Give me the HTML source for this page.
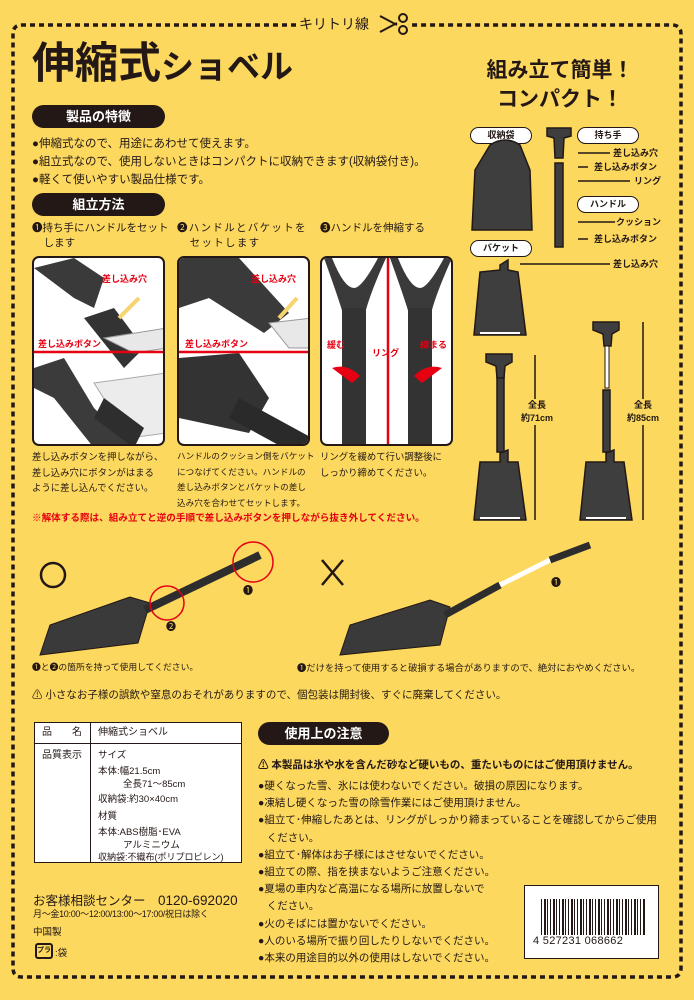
<!DOCTYPE html>
<html><head><meta charset="utf-8">
<style>
*{margin:0;padding:0;box-sizing:border-box}
body{width:694px;height:1000px;background:#fcd85e;position:relative;overflow:hidden;font-family:"Liberation Sans","Noto Sans CJK JP",sans-serif;color:#231815}
.a{position:absolute;white-space:nowrap}
.pill{position:absolute;background:#231815;color:#fff;border-radius:12px;font-weight:bold;font-size:13px;text-align:center;line-height:23px;height:23px}
.wp{position:absolute;background:#fff;border:1.5px solid #231815;border-radius:9px;font-weight:bold;font-size:9px;text-align:center;line-height:14px;height:17px;width:62px}
.t12{font-size:11.5px;line-height:18px}
.cap{font-size:9.4px;line-height:15.5px}
.photo{position:absolute;border:2px solid #231815;border-radius:7px;background:#fff;overflow:hidden;top:256px;height:190px}
.lbl{font-size:9px;font-weight:bold}
.red{color:#e60012}
.tb{position:absolute;white-space:nowrap;font-size:9.5px;line-height:12px}
</style></head><body>
<svg class="a" style="left:0;top:0" width="694" height="1000">
 <path d="M296 25 H22 Q13 25 13 34 V968 Q13 977 22 977 H672 Q681 977 681 968 V34 Q681 25 672 25 H408" fill="none" stroke="#231815" stroke-width="3.5" stroke-dasharray="5 4"/>
 <g stroke="#231815" stroke-width="2" fill="none"><path d="M380 16 L397 25 M380 32 L397 23"/><circle cx="403" cy="18" r="4"/><circle cx="403" cy="30" r="4"/></g>
</svg>
<div class="a" style="left:299px;top:14px;font-size:14px">キリトリ線</div>

<div class="a" style="left:32px;top:36px;font-size:43px;font-weight:bold;line-height:56px">伸縮式<span style="font-size:33px">ショベル</span></div>
<div class="pill" style="left:32px;top:105px;width:133px">製品の特徴</div>
<div class="a t12" style="left:32px;top:135px">●伸縮式なので、用途にあわせて使えます。<br>●組立式なので、使用しないときはコンパクトに収納できます(収納袋付き)。<br>●軽くて使いやすい製品仕様です。</div>
<div class="pill" style="left:32px;top:193px;width:133px">組立方法</div>
<div class="a" style="left:32px;top:221px;font-size:10.5px;line-height:15px">❶持ち手にハンドルをセット<br>&nbsp;&nbsp;&nbsp;&nbsp;します</div>
<div class="a" style="left:177px;top:221px;font-size:10.5px;line-height:15px;letter-spacing:1.3px">❷ハンドルとバケットを<br>&nbsp;&nbsp;&nbsp;セットします</div>
<div class="a" style="left:320px;top:221px;font-size:10.5px;line-height:15px">❸ハンドルを伸縮する</div>

<div class="photo" style="left:32px;width:133px">
<svg width="133" height="190"><path d="M0 10 L40 0 L70 20 L60 50 L40 40 Z" fill="#3a3a3a"/><path d="M50 60 L80 50 L110 90 L90 110 Z" fill="#333"/><path d="M70 80 L133 70 L133 90 L100 95Z" fill="#e8e8e8" stroke="#999"/><path d="M0 110 L30 100 L60 150 L100 190 L60 190 L20 140 L0 130Z" fill="#3b3b3b"/><path d="M60 125 L133 115 L133 175 L95 180 Z" fill="#ececec" stroke="#aaa"/><path d="M70 140 L110 170 L100 190 L60 160Z" fill="#2e2e2e"/><line x1="0" y1="94" x2="133" y2="94" stroke="#e60012" stroke-width="2.5"/><path d="M85 60 L105 40" stroke="#f6d470" stroke-width="4"/></svg>
<div class="a lbl red" style="left:68px;top:14px">差し込み穴</div><div class="a lbl red" style="left:4px;top:79px">差し込みボタン</div></div>
<div class="photo" style="left:177px;width:133px">
<svg width="133" height="190"><path d="M0 0 L60 0 L110 55 L85 75 L30 40 L0 50Z" fill="#3a3a3a"/><path d="M0 100 L60 95 L90 140 L70 175 L0 160Z" fill="#333"/><path d="M60 140 L133 180 L133 190 L105 190 L50 160Z" fill="#2a2a2a"/><path d="M90 65 L133 60 L133 90 L110 90Z" fill="#e8e8e8" stroke="#999"/><line x1="0" y1="94" x2="133" y2="94" stroke="#e60012" stroke-width="2.5"/><path d="M100 60 L118 40" stroke="#f6d470" stroke-width="4"/></svg>
<div class="a lbl red" style="left:72px;top:14px">差し込み穴</div><div class="a lbl red" style="left:6px;top:79px">差し込みボタン</div></div>
<div class="photo" style="left:320px;width:133px">
<svg width="133" height="190"><path d="M2 0 Q20 50 22 60 L42 60 Q46 40 64 0 L56 0 Q40 30 32 30 Q22 30 10 0Z" fill="#3a3a3a"/><rect x="20" y="50" width="24" height="140" fill="#333"/><path d="M68 0 Q86 50 88 60 L108 60 Q112 40 130 0 L122 0 Q106 30 98 30 Q88 30 76 0Z" fill="#3a3a3a"/><rect x="86" y="50" width="24" height="140" fill="#333"/><line x1="66" y1="0" x2="66" y2="190" stroke="#e60012" stroke-width="2.5"/><path d="M10 110 Q25 105 38 118 L30 125Z" fill="#e60012"/><path d="M120 110 Q105 105 92 118 L100 125Z" fill="#e60012"/></svg>
<div class="a lbl red" style="left:5px;top:80px">緩む</div><div class="a lbl red" style="left:50px;top:88px">リング</div><div class="a lbl red" style="left:98px;top:80px">締まる</div></div>

<div class="a cap" style="left:32px;top:449px">差し込みボタンを押しながら、<br>差し込み穴にボタンがはまる<br>ように差し込んでください。</div>
<div class="a cap" style="left:177px;top:449px;font-size:8.6px">ハンドルのクッション側をバケット<br>につなげてください。ハンドルの<br>差し込みボタンとバケットの差し<br>込み穴を合わせてセットします。</div>
<div class="a cap" style="left:320px;top:449px">リングを緩めて行い調整後に<br>しっかり締めてください。</div>
<div class="a red" style="left:32px;top:510px;font-size:9.6px;font-weight:bold">※解体する際は、組み立てと逆の手順で差し込みボタンを押しながら抜き外してください。</div>

<!-- right column -->
<div class="a" style="left:470px;top:56px;width:180px;text-align:center;font-size:21px;font-weight:bold;line-height:29px">組み立て簡単！<br>コンパクト！</div>
<div class="wp" style="left:470px;top:127px">収納袋</div>
<div class="wp" style="left:577px;top:127px">持ち手</div>
<div class="wp" style="left:577px;top:196px">ハンドル</div>
<div class="wp" style="left:470px;top:240px">バケット</div>
<svg class="a" style="left:460px;top:110px" width="234" height="420">
 <g fill="#3e3e3e" stroke="#231815" stroke-width="1.5">
  <path d="M30 35 Q45 25 60 35 L70 60 L72 120 L12 120 L15 60Z"/>
  <path d="M87 18 L111 18 L111 26 L104 28 L103 48 L95 48 L94 28 L87 26Z"/>
  <rect x="95" y="53" width="8" height="84"/>
  <path d="M40 155 L48 150 L48 160 L58 162 L66 225 L14 225 L20 162 L40 160Z"/>
  <path d="M40 343 L48 340 L48 352 L58 352 L66 410 L14 410 L20 352 L40 352Z"/>
  <rect x="37" y="262" width="7" height="80"/>
  <path d="M26 244 L52 244 L52 252 L45 256 L44 268 L37 268 L36 256 L26 252Z"/>
  <path d="M146 343 L154 340 L154 352 L164 352 L172 410 L120 410 L126 352 L146 352Z"/>
  <rect x="143" y="280" width="7" height="62"/>
  <path d="M133 212 L159 212 L159 220 L152 224 L151 236 L144 236 L143 224 L133 220Z"/>
 </g>
 <rect x="145" y="236" width="4" height="42" fill="#fff" stroke="#231815"/>
 <rect x="20" y="222" width="40" height="2" fill="#fff"/><rect x="20" y="407" width="40" height="2" fill="#fff"/><rect x="126" y="407" width="40" height="2" fill="#fff"/>
 <g stroke="#231815" stroke-width="1.5">
  <line x1="118" y1="43" x2="150" y2="43"/><line x1="118" y1="57" x2="128" y2="57"/><line x1="118" y1="71" x2="170" y2="71"/>
  <line x1="118" y1="112" x2="155" y2="112"/><line x1="118" y1="129" x2="128" y2="129"/><line x1="60" y1="154" x2="150" y2="154"/>
  <line x1="75" y1="245" x2="75" y2="410"/><line x1="183" y1="212" x2="183" y2="410"/>
 </g>
</svg>
<div class="a lbl" style="left:613px;top:146px">差し込み穴</div>
<div class="a lbl" style="left:594px;top:160px">差し込みボタン</div>
<div class="a lbl" style="left:634px;top:174px">リング</div>
<div class="a lbl" style="left:616px;top:215px">クッション</div>
<div class="a lbl" style="left:594px;top:232px">差し込みボタン</div>
<div class="a lbl" style="left:613px;top:257px">差し込み穴</div>
<div class="a lbl" style="left:521px;top:399px;background:#fcd85e;text-align:center;line-height:13px">全長<br>約71cm</div>
<div class="a lbl" style="left:627px;top:399px;background:#fcd85e;text-align:center;line-height:13px">全長<br>約85cm</div>

<!-- usage -->
<svg class="a" style="left:20px;top:525px" width="660" height="140">
 <circle cx="33" cy="50" r="12" fill="none" stroke="#231815" stroke-width="2.5"/>
 <path d="M302 35 L323 60 M323 35 L302 60" stroke="#231815" stroke-width="2.5"/>
 <path d="M20 130 L30 100 L110 72 L130 78 L118 118 Z" fill="#3a3a3a" stroke="#231815"/>
 <path d="M125 85 L240 30" stroke="#2d2d2d" stroke-width="8"/>
 <circle cx="147" cy="78" r="17" fill="none" stroke="#e60012" stroke-width="1.5"/>
 <circle cx="233" cy="37" r="20" fill="none" stroke="#e60012" stroke-width="1.5"/>
 <path d="M320 130 L330 100 L410 75 L430 82 L420 120Z" fill="#3a3a3a" stroke="#231815"/>
 <path d="M425 90 L480 60" stroke="#2d2d2d" stroke-width="7"/>
 <path d="M480 60 L530 35" stroke="#fff" stroke-width="5"/>
 <path d="M530 35 L570 20" stroke="#2d2d2d" stroke-width="7"/>
</svg>
<div class="a" style="left:243px;top:582px;font-size:10px">❶</div>
<div class="a" style="left:166px;top:618px;font-size:10px">❷</div>
<div class="a" style="left:551px;top:574px;font-size:10px">❶</div>
<div class="a" style="left:32px;top:660px;font-size:8.8px">❶と❷の箇所を持って使用してください。</div>
<div class="a" style="left:297px;top:660px;font-size:9.3px">❶だけを持って使用すると破損する場合がありますので、絶対におやめください。</div>
<div class="a" style="left:32px;top:687px;font-size:10.5px">⚠ 小さなお子様の誤飲や窒息のおそれがありますので、個包装は開封後、すぐに廃棄してください。</div>

<!-- table -->
<div class="a" style="left:34px;top:722px;width:208px;height:141px;border:1.5px solid #231815;background:#fff"></div>
<div class="a" style="left:34px;top:743px;width:208px;border-top:1.5px solid #231815"></div>
<div class="a" style="left:90px;top:722px;height:141px;border-left:1.5px solid #231815"></div>
<div class="tb" style="left:42px;top:727px;font-size:10px">品　　名</div>
<div class="tb" style="left:98px;top:727px;font-size:10px">伸縮式ショベル</div>
<div class="tb" style="left:42px;top:750px;font-size:10px">品質表示</div>
<div class="tb" style="left:98px;top:750px">サイズ</div>
<div class="tb" style="left:98px;top:766px">本体:幅21.5cm</div>
<div class="tb" style="left:123px;top:779px">全長71～85cm</div>
<div class="tb" style="left:98px;top:794px">収納袋:約30×40cm</div>
<div class="tb" style="left:98px;top:811px">材質</div>
<div class="tb" style="left:98px;top:827px">本体:ABS樹脂･EVA</div>
<div class="tb" style="left:123px;top:840px">アルミニウム</div>
<div class="tb" style="left:98px;top:851px;font-size:9px">収納袋:不織布(ポリプロピレン)</div>
<div class="a" style="left:33px;top:890px;font-size:12.5px">お客様相談センター　<span style="font-size:13.5px">0120-692020</span></div>
<div class="a" style="left:33px;top:907px;font-size:9px;letter-spacing:-0.3px">月～金10:00～12:00/13:00～17:00/祝日は除く</div>
<div class="a" style="left:33px;top:924px;font-size:9.5px">中国製</div>
<div class="a" style="left:35px;top:943px;width:18px;height:16px;border:2px solid #231815;border-radius:3px;font-size:7px;text-align:center;line-height:12px;font-weight:bold">プラ</div>
<div class="a" style="left:55px;top:945px;font-size:9.5px">:袋</div>

<div class="pill" style="left:258px;top:722px;width:131px">使用上の注意</div>
<div class="a" style="left:258px;top:757px;font-size:10.5px;font-weight:bold">⚠ 本製品は氷や水を含んだ砂など硬いもの、重たいものにはご使用頂けません。</div>
<div class="a" style="left:258px;top:778px;font-size:10.5px;line-height:17.2px">●硬くなった雪、氷には使わないでください。破損の原因になります。<br>●凍結し硬くなった雪の除雪作業にはご使用頂けません。<br>●組立て･伸縮したあとは、リングがしっかり締まっていることを確認してからご使用<br>&nbsp;&nbsp;&nbsp;ください。<br>●組立て･解体はお子様にはさせないでください。<br>●組立ての際、指を挟まないようご注意ください。<br>●夏場の車内など高温になる場所に放置しないで<br>&nbsp;&nbsp;&nbsp;ください。<br>●火のそばには置かないでください。<br>●人のいる場所で振り回したりしないでください。<br>●本来の用途目的以外の使用はしないでください。</div>

<div class="a" style="left:524px;top:885px;width:135px;height:74px;background:#fff;border:1.5px solid #231815"></div>
<div class="a" style="left:541px;top:899px;width:104px;height:36px;background:repeating-linear-gradient(90deg,#231815 0 1px,#fff 1px 3px,#231815 3px 5px,#fff 5px 6px,#231815 6px 7px,#fff 7px 9px)"></div>
<div class="a" style="left:533px;top:935px;font-size:11px;letter-spacing:0.3px">4 527231 068662</div>
</body></html>
